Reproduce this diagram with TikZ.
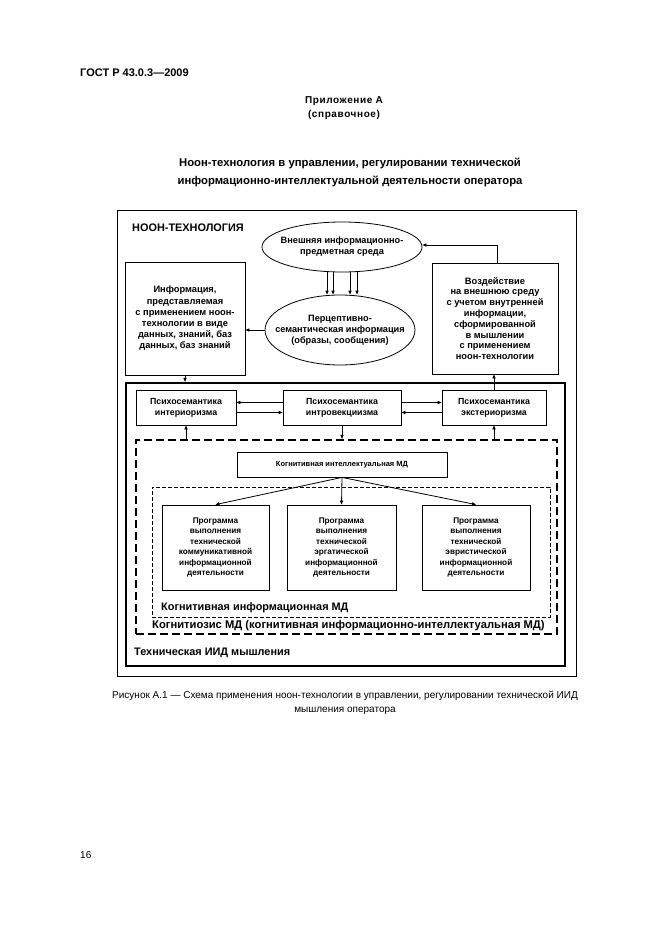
\documentclass[tikz,border=0pt]{standalone}
\usepackage{fontspec}
\setmainfont{Liberation Sans}
\usetikzlibrary{arrows.meta,calc,shapes.geometric}
\newcommand{\fsz}[2]{\fontsize{#1}{#2}\selectfont}
\begin{document}
\begin{tikzpicture}[x=1pt,y=-1pt,
  arr/.style={-{Triangle[length=4pt,width=3.2pt]}, line width=0.8pt},
  bx/.style={draw, line width=0.8pt, align=center, inner sep=1pt},
  elbox/.style={draw, ellipse, line width=0.8pt, inner sep=0pt},
  boxtext/.style={font=\fsz{9.3}{11.2}\bfseries},
  elltext/.style={font=\fsz{9.2}{11}\bfseries, align=center, inner sep=0pt},
  psytext/.style={font=\fsz{8.8}{11}\bfseries},
  progtext/.style={font=\fsz{8.2}{10.4}\bfseries},
  lbl/.style={anchor=west, inner sep=0pt, font=\fsz{10.9}{12}\bfseries},
  pagetext/.style={inner sep=0pt}
]
\useasboundingbox (0,0) rectangle (661,936);
\fill[white] (0,0) rectangle (661,936);

% page texts
\node[pagetext, anchor=west, font=\fsz{11}{12}\bfseries] (gost) at (80,73) {ГОСТ Р 43.0.3—2009};
\node[pagetext, font=\fsz{10}{12}\bfseries\addfontfeature{LetterSpace=6}] (app) at (344,101) {Приложение А};
\node[pagetext, font=\fsz{10}{12}\bfseries\addfontfeature{LetterSpace=6}] (ref) at (344,115) {(справочное)};
\node[pagetext, font=\fsz{11.3}{18}\bfseries, align=center] (title) at (350,172) {Ноон-технология в управлении, регулировании технической\\информационно-интеллектуальной деятельности оператора};
\node[pagetext, font=\fsz{10}{13.5}, align=center] (cap) at (345,703) {Рисунок А.1 — Схема применения ноон-технологии в управлении, регулировании технической ИИД\\мышления оператора};
\node[pagetext, anchor=west, font=\fsz{10}{12}] (pnum) at (80,855) {16};

% containers
\node[draw, line width=0.8pt, minimum width=459pt, minimum height=466pt, inner sep=0pt] (outer) at (346.5,443) {};
\node[draw, line width=2.2pt, minimum width=439pt, minimum height=283pt, inner sep=0pt] (tid) at (345.5,524.5) {};
\node[draw, line width=2.2pt, dash pattern=on 8pt off 4pt, minimum width=421pt, minimum height=194pt, inner sep=0pt] (cog) at (346.5,537) {};
\node[draw, line width=0.9pt, dash pattern=on 4pt off 2pt, minimum width=398pt, minimum height=130pt, inner sep=0pt] (cim) at (351,552) {};

% labels
\node[lbl] (noon) at (132,228) {НООН-ТЕХНОЛОГИЯ};
\node[lbl] (cimlbl) at (161,608) {Когнитивная информационная МД};
\node[lbl, font=\fsz{11.2}{12}\bfseries] (coglbl) at (152,626) {Когнитиозис МД (когнитивная информационно-интеллектуальная МД)};
\node[lbl] (tidlbl) at (134,653) {Техническая ИИД мышления};

% ellipses
\node[elbox, minimum width=160pt, minimum height=50pt] (e1) at (342,247) {};
\node[elltext] (e1t) at (e1.center) {Внешняя информационно-\\предметная среда};
\node[elbox, minimum width=150pt, minimum height=70pt] (e2) at (340,330) {};
\node[elltext] (e2t) at (e2.center) {Перцептивно-\\семантическая информация\\(образы, сообщения)};

% side boxes
\node[bx, minimum width=120pt, minimum height=113pt, boxtext] (info) at (185,318.5) {Информация,\\представляемая\\с применением ноон-\\технологии в виде\\данных, знаний, баз\\данных, баз знаний};
\node[bx, minimum width=126pt, minimum height=111pt, font=\fsz{9.3}{10.8}\bfseries] (act) at (495,318.5) {Воздействие\\на внешнюю среду\\с учетом внутренней\\информации,\\сформированной\\в мышлении\\с применением\\ноон-технологии};

% psychosemantics
\node[bx, minimum width=100pt, minimum height=35pt, psytext] (psyL) at (186,407.5) {Психосемантика\\интериоризма};
\node[bx, minimum width=118pt, minimum height=35pt, psytext] (psyM) at (342,407.5) {Психосемантика\\интровекциизма};
\node[bx, minimum width=104pt, minimum height=35pt, psytext] (psyR) at (494,407.5) {Психосемантика\\экстериоризма};

% cognitive intellectual
\node[bx, minimum width=210pt, minimum height=25pt, font=\fsz{7.5}{9}\bfseries] (kim) at (342,464.5) {Когнитивная интеллектуальная МД};

% programs
\node[bx, minimum width=107pt, minimum height=85pt, progtext] (p1) at (215.5,547.5) {Программа\\выполнения\\технической\\коммуникативной\\информационной\\деятельности};
\node[bx, minimum width=109pt, minimum height=85pt, progtext] (p2) at (341.5,547.5) {Программа\\выполнения\\технической\\эргатической\\информационной\\деятельности};
\node[bx, minimum width=108pt, minimum height=85pt, progtext] (p3) at (476,547.5) {Программа\\выполнения\\технической\\эвристической\\информационной\\деятельности};

% connectors between ellipses
\draw[arr] ([xshift=-15pt]e1.south) -- ([xshift=-13pt]e2.north);
\draw[arr] ([xshift=-9pt]e1.south) -- ([xshift=-7pt]e2.north);
\draw[arr] ([xshift=8pt]e1.south) -- ([xshift=10pt]e2.north);
\draw[arr] ([xshift=15pt]e1.south) -- ([xshift=17pt]e2.north);

\draw[arr] (e2.west) -- (e2.west -| info.east);
\draw[arr] ([xshift=2pt]act.north) |- ([yshift=2pt]e1.east);

\draw[arr] (info.south) -- (info.south |- tid.north);
\draw[arr] (psyR.north) -- (psyR.north |- act.south);

\draw[arr] ([yshift=5pt]psyM.west) -- ([yshift=5pt]psyL.east);
\draw[arr] ([yshift=-5pt]psyL.east) -- ([yshift=-5pt]psyM.west);
\draw[arr] ([yshift=5pt]psyM.east) -- ([yshift=5pt]psyR.west);
\draw[arr] ([yshift=-5pt]psyR.west) -- ([yshift=-5pt]psyM.east);

\draw[arr] (psyL.south |- cog.north) -- (psyL.south);
\draw[arr] (psyM.south) -- (psyM.south |- cog.north);
\draw[arr] (psyR.south |- cog.north) -- (psyR.south);

\draw[arr] (kim.south) -- (p1.north);
\draw[arr] (kim.south) -- (p2.north);
\draw[arr] (kim.south) -- (p3.north);
\end{tikzpicture}
\end{document}
